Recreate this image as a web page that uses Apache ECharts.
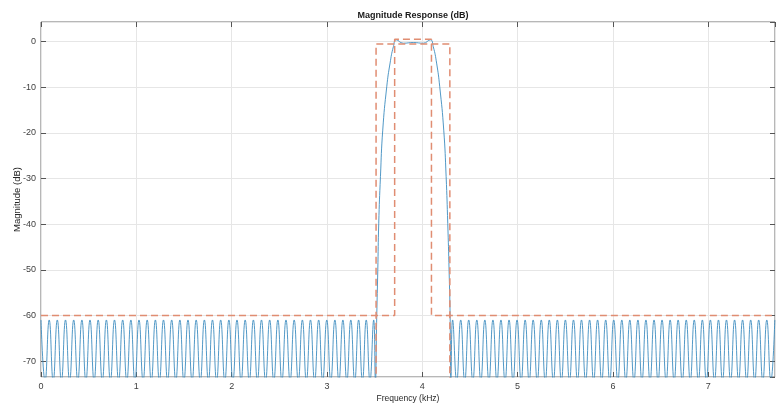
<!DOCTYPE html>
<html><head><meta charset="utf-8">
<script src="https://cdn.jsdelivr.net/npm/echarts@6/dist/echarts.min.js"></script>
<style>html,body{margin:0;padding:0;background:#fff}#c{width:777px;height:405px}</style>
</head><body><div id="c"></div>
<script>
// ---- data ----
const stopPeakDb = -61;     // stopband ripple peak level (dB)
const stopNullDb = -74.4;   // estimated null depth (clipped in the picture)

const leftPeakFreq = [0, 0.086, 0.171, 0.257, 0.343, 0.429, 0.514, 0.600, 0.686, 0.771, 0.857, 0.943, 1.028, 1.114, 1.200, 1.285, 1.371, 1.457, 1.542, 1.628, 1.714, 1.799, 1.885, 1.971, 2.056, 2.142, 2.228, 2.313, 2.399, 2.485, 2.570, 2.656, 2.742, 2.827, 2.913, 2.998, 3.083, 3.167, 3.250, 3.332, 3.412, 3.490];
const leftNullFreq = [0.043, 0.128, 0.214, 0.300, 0.386, 0.471, 0.557, 0.643, 0.728, 0.814, 0.900, 0.985, 1.071, 1.157, 1.242, 1.328, 1.414, 1.499, 1.585, 1.671, 1.756, 1.842, 1.928, 2.013, 2.099, 2.185, 2.270, 2.356, 2.442, 2.527, 2.613, 2.699, 2.784, 2.870, 2.955, 3.040, 3.125, 3.208, 3.291, 3.372, 3.451, 3.508];

const passFreq = [3.522, 3.533, 3.543, 3.561, 3.585, 3.627, 3.662, 3.697, 3.727, 3.800, 3.905, 4.010, 4.085, 4.115, 4.150, 4.183, 4.225, 4.250, 4.267, 4.281, 4.292];
const passDb   = [-60.3, -50.1, -39.8, -29.6, -19.4, -9.9, -4.7, -1.1, 0.4, -0.35, -0.2, -0.35, 0.4, -1.1, -4.7, -9.9, -19.4, -29.6, -39.8, -50.1, -60.3];

const rightNullFreq = [4.300, 4.361, 4.445, 4.530, 4.614, 4.699, 4.783, 4.868, 4.952, 5.037, 5.121, 5.206, 5.290, 5.375, 5.459, 5.544, 5.628, 5.713, 5.797, 5.882, 5.966, 6.051, 6.135, 6.220, 6.304, 6.389, 6.473, 6.558, 6.642, 6.727, 6.811, 6.896, 6.980, 7.065, 7.149, 7.234, 7.318, 7.403, 7.487, 7.572, 7.656];
const rightPeakFreq = [4.318, 4.403, 4.487, 4.572, 4.656, 4.741, 4.825, 4.910, 4.994, 5.079, 5.163, 5.248, 5.332, 5.417, 5.501, 5.586, 5.670, 5.755, 5.839, 5.924, 6.008, 6.093, 6.177, 6.262, 6.346, 6.431, 6.515, 6.600, 6.684, 6.769, 6.853, 6.938, 7.022, 7.107, 7.191, 7.276, 7.360, 7.445, 7.529, 7.614, 7.698];

// mask lines (red dashed)
const maskUpperFreq = [0, 3.71, 3.71, 4.096, 4.096, 7.7];
const maskUpperDb   = [-60, -60, 0.5, 0.5, -60, -60];
const maskLowerFreq = [3.515, 3.515, 4.289, 4.289];
const maskLowerDb   = [-80, -0.5, -0.5, -80];

const xRange = [0, 7.7];
const yRange = [-73.5, 4.3];

// ---- build series data ----
const curve = [];
leftPeakFreq.forEach((f, i) => { curve.push([f, stopPeakDb]); curve.push([leftNullFreq[i], stopNullDb]); });
passFreq.forEach((f, i) => curve.push([f, passDb[i]]));
rightNullFreq.forEach((f, i) => { curve.push([f, stopNullDb]); curve.push([rightPeakFreq[i], stopPeakDb]); });
const maskUpper = maskUpperFreq.map((f, i) => [f, maskUpperDb[i]]);
const maskLower = maskLowerFreq.map((f, i) => [f, maskLowerDb[i]]);

const FONT = 'Liberation Sans, Arial, Helvetica, sans-serif';
const chart = echarts.init(document.getElementById('c'), null, {renderer: 'canvas'});
const tickStyle = {show: true, inside: true, length: 5, lineStyle: {color: '#555', width: 1}};
const noLine = {show: false, onZero: false};
const maskStyle = {color: '#e08d72', width: 1.5, type: [7, 4]};
chart.setOption({
  animation: false,
  backgroundColor: '#fff',
  title: {
    text: 'Magnitude Response (dB)', left: 408, top: 6, textAlign: 'center',
    textStyle: {fontFamily: FONT, fontSize: 9, fontWeight: 'bold', color: '#1a1a1a'}
  },
  grid: {left: 41, right: 2, top: 22, bottom: 28, containLabel: false, outerBoundsMode: 'none',
         show: true, borderColor: '#6e6e6e', borderWidth: 1, backgroundColor: 'transparent'},
  xAxis: [{
    type: 'value', min: xRange[0], max: xRange[1], interval: 1, position: 'bottom',
    name: 'Frequency (kHz)', nameLocation: 'middle', nameGap: 17, nameMoveOverlap: false,
    nameTextStyle: {fontFamily: FONT, fontSize: 8.5, color: '#262626'},
    axisLine: noLine, axisTick: tickStyle,
    axisLabel: {fontFamily: FONT, fontSize: 9, color: '#404040', margin: 5, showMaxLabel: false},
    splitLine: {show: true, lineStyle: {color: '#e6e6e6', width: 1}}
  }, {
    type: 'value', min: xRange[0], max: xRange[1], interval: 1, position: 'top',
    axisLine: noLine, axisTick: tickStyle, axisLabel: {show: false}, splitLine: {show: false}
  }],
  yAxis: [{
    type: 'value', min: yRange[0], max: yRange[1], splitNumber: 8, position: 'left',
    name: 'Magnitude (dB)', nameLocation: 'middle', nameGap: 19, nameRotate: 90, nameMoveOverlap: false,
    nameTextStyle: {fontFamily: FONT, fontSize: 9.5, color: '#262626'},
    axisLine: noLine, axisTick: tickStyle,
    axisLabel: {fontFamily: FONT, fontSize: 9, color: '#404040', margin: 5, showMinLabel: false, showMaxLabel: false},
    splitLine: {show: true, lineStyle: {color: '#e6e6e6', width: 1}}
  }, {
    type: 'value', min: yRange[0], max: yRange[1], splitNumber: 8, position: 'right',
    axisLine: noLine, axisTick: tickStyle, axisLabel: {show: false}, splitLine: {show: false}
  }],
  series: [{
    type: 'line', data: curve, xAxisIndex: 0, yAxisIndex: 0, smooth: 0.5, showSymbol: false, clip: true,
    lineStyle: {color: '#3d8cbf', width: 0.9}, emphasis: {disabled: true}, z: 3
  }, {
    type: 'line', data: maskUpper, showSymbol: false, clip: true,
    lineStyle: maskStyle, emphasis: {disabled: true}, z: 4
  }, {
    type: 'line', data: maskLower, showSymbol: false, clip: true,
    lineStyle: maskStyle, emphasis: {disabled: true}, z: 4
  }]
});
</script></body></html>
